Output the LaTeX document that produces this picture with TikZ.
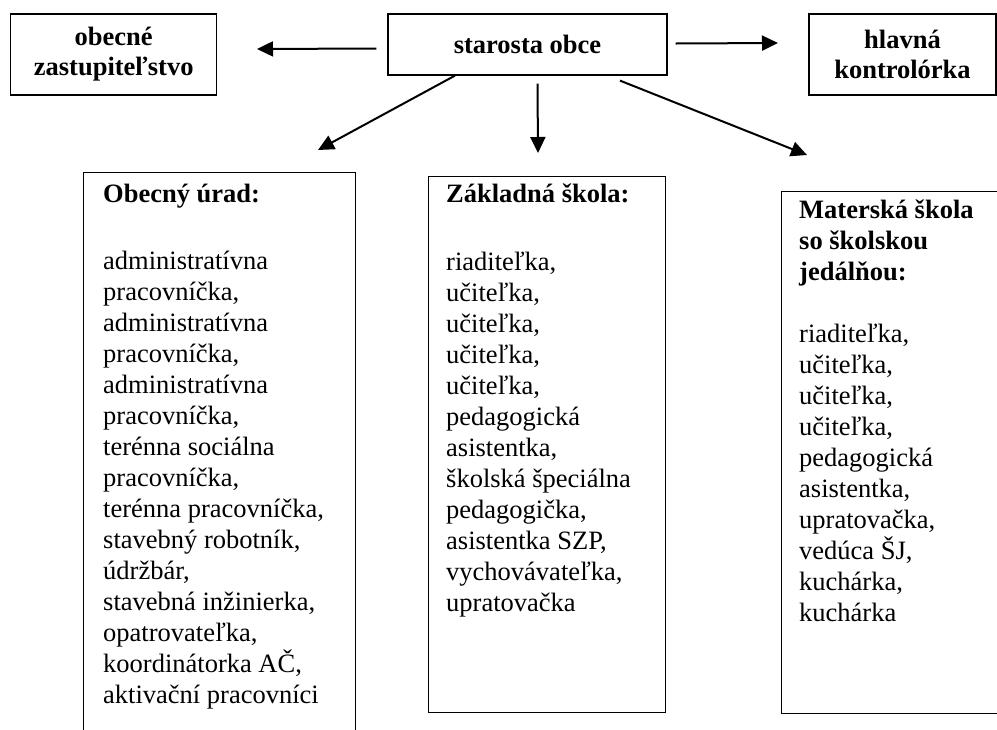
\documentclass[tikz,border=0pt]{standalone}
\usepackage{fontspec}
\setmainfont{Liberation Serif}
\usetikzlibrary{positioning,arrows.meta}
\lineskiplimit=-100pt\relax

\newcommand{\firstline}{\rule{0pt}{20pt}}

\begin{document}
\begin{tikzpicture}[x=1pt,y=-1pt,
head/.style={
rectangle,
draw,
line width=1.2pt,
inner sep=0pt,
align=center,
font=\fontsize{26.5}{30}\selectfont\bfseries
},
unit/.style={
rectangle,
draw,
line width=1.2pt,
inner sep=0pt,
anchor=north west
},
list/.style={align=left,inner sep=0pt,anchor=north west,font={\fontsize{26.5}{31}\selectfont\lineskiplimit=-100pt\relax}},
to/.style={-{Triangle[length=16pt,width=15pt]},line width=2pt},
]
\useasboundingbox (0,0) rectangle (997,729);
\clip (0,0) rectangle (997,729);
% top row
\node (starosta) [head,minimum width=279pt,minimum height=61pt] at (527.5,44.5) {starosta obce};
\node (zastup) [head,minimum width=206pt,minimum height=81pt] at (113.7,54.5) {obecné\\zastupiteľstvo};
\node (kontrol) [head,minimum width=187pt,minimum height=81pt] at (902.5,54.5) {hlavná\\kontrolórka};
% units
\node (urad) [unit,minimum width=272pt,minimum height=600pt] at (83,171.5) {};
\node (zs) [unit,minimum width=237pt,minimum height=536pt] at (428,176) {};
\node (ms) [unit,minimum width=260pt,minimum height=522pt] at (781,191) {};
\node (uradlist) [list] at (103,182) {\firstline{\bfseries Obecný úrad:}\\[36.5pt]
administratívna\\pracovníčka,\\administratívna\\pracovníčka,\\administratívna\\pracovníčka,\\
terénna sociálna\\pracovníčka,\\terénna pracovníčka,\\stavebný robotník,\\údržbár,\\
stavebná inžinierka,\\opatrovateľka,\\koordinátorka AČ,\\aktivační pracovníci};
\node (zslist) [list] at (446,182) {\firstline{\bfseries Základná škola:}\\[37.5pt]
riaditeľka,\\učiteľka,\\učiteľka,\\učiteľka,\\učiteľka,\\pedagogická\\asistentka,\\
školská špeciálna\\pedagogička,\\asistentka SZP,\\vychovávateľka,\\upratovačka};
\node (mslist) [list] at (799,198) {\firstline{\bfseries Materská škola}\\{\bfseries so školskou}\\{\bfseries jedálňou:}\\[31.5pt]
riaditeľka,\\učiteľka,\\učiteľka,\\učiteľka,\\pedagogická\\asistentka,\\upratovačka,\\
vedúca ŠJ,\\kuchárka,\\kuchárka};
% arrow tips
\coordinate (tipzastup) at (257,49);
\coordinate (tipkontrol) at (778,43);
\coordinate (tipurad) at (318,150);
\coordinate (tipzs) at (538,153);
\coordinate (tipms) at (807,155);
\draw[to] ([shift={(-11,4)}]starosta.west) -- (tipzastup);
\draw[to] ([shift={(8,-1)}]starosta.east) -- (tipkontrol);
\draw[to] ([xshift=-72.5pt]starosta.south) -- (tipurad);
\draw[to] ([shift={(10,8)}]starosta.south) -- (tipzs);
\draw[to] ([shift={(92.5,5)}]starosta.south) -- (tipms);
\end{tikzpicture}
\end{document}
